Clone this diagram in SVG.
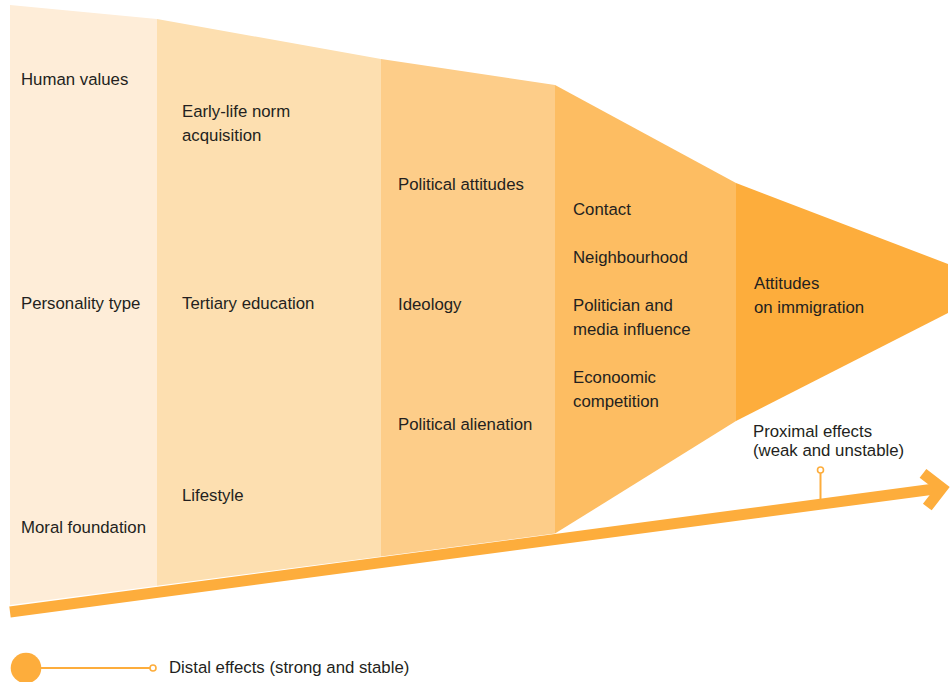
<svg xmlns="http://www.w3.org/2000/svg" width="951" height="682" viewBox="0 0 951 682">
<style>
text{font-family:"Liberation Sans",Arial,sans-serif;font-size:16.8px;fill:#231f20}
.orange{fill:#fdad3c}
.shaft{fill:none;stroke:#fdad3c;stroke-width:11}
.thin{fill:none;stroke:#fdad3c;stroke-width:2}
.dot{fill:#fff;stroke:#fdad3c;stroke-width:1.6}
</style>
<rect width="951" height="682" fill="#fff"/>
<g id="col1">
<polygon points="10,5 157,19 157,585.7 10,605" fill="#feedd8"/>
<text x="21" y="85">Human values</text>
<text x="21" y="309">Personality type</text>
<text x="21" y="533">Moral foundation</text>
</g>
<g id="col2">
<polygon points="157,19 381,59 381,556.4 157,585.7" fill="#fddfb0"/>
<text x="182" y="117">Early-life norm</text>
<text x="182" y="141">acquisition</text>
<text x="182" y="309">Tertiary education</text>
<text x="182" y="501">Lifestyle</text>
</g>
<g id="col3">
<polygon points="381,59 555,85 555,533.6 381,556.4" fill="#fdcd89"/>
<text x="398" y="190">Political attitudes</text>
<text x="398" y="310">Ideology</text>
<text x="398" y="430">Political alienation</text>
</g>
<g id="col4">
<polygon points="555,85 736,183 736,421 555,533.6" fill="#fdbd62"/>
<text x="573" y="215">Contact</text>
<text x="573" y="263">Neighbourhood</text>
<text x="573" y="311">Politician and</text>
<text x="573" y="335">media influence</text>
<text x="573" y="383">Econoomic</text>
<text x="573" y="407">competition</text>
</g>
<g id="col5">
<polygon points="736,183 948,264 948,313 736,421" fill="#fdad3c"/>
<text x="754" y="289">Attitudes</text>
<text x="754" y="313">on immigration</text>
</g>
<g id="connectors">
<line class="shaft" x1="10" y1="612" x2="942" y2="488"/>
<polyline class="shaft" points="923,473.3 942,488 927.3,507" stroke-linejoin="miter"/>
<line class="thin" x1="820.5" y1="473" x2="820.5" y2="504"/>
<circle class="dot" cx="820.5" cy="470" r="3"/>
</g>
<g id="proximal-label">
<text x="753" y="437">Proximal effects</text>
<text x="753" y="456">(weak and unstable)</text>
</g>
<g id="legend">
<circle class="orange" cx="26" cy="668" r="15.3"/>
<line class="thin" x1="41" y1="668" x2="150" y2="668"/>
<circle class="dot" cx="153" cy="668" r="3"/>
<text x="169" y="673">Distal effects (strong and stable)</text>
</g>
</svg>
